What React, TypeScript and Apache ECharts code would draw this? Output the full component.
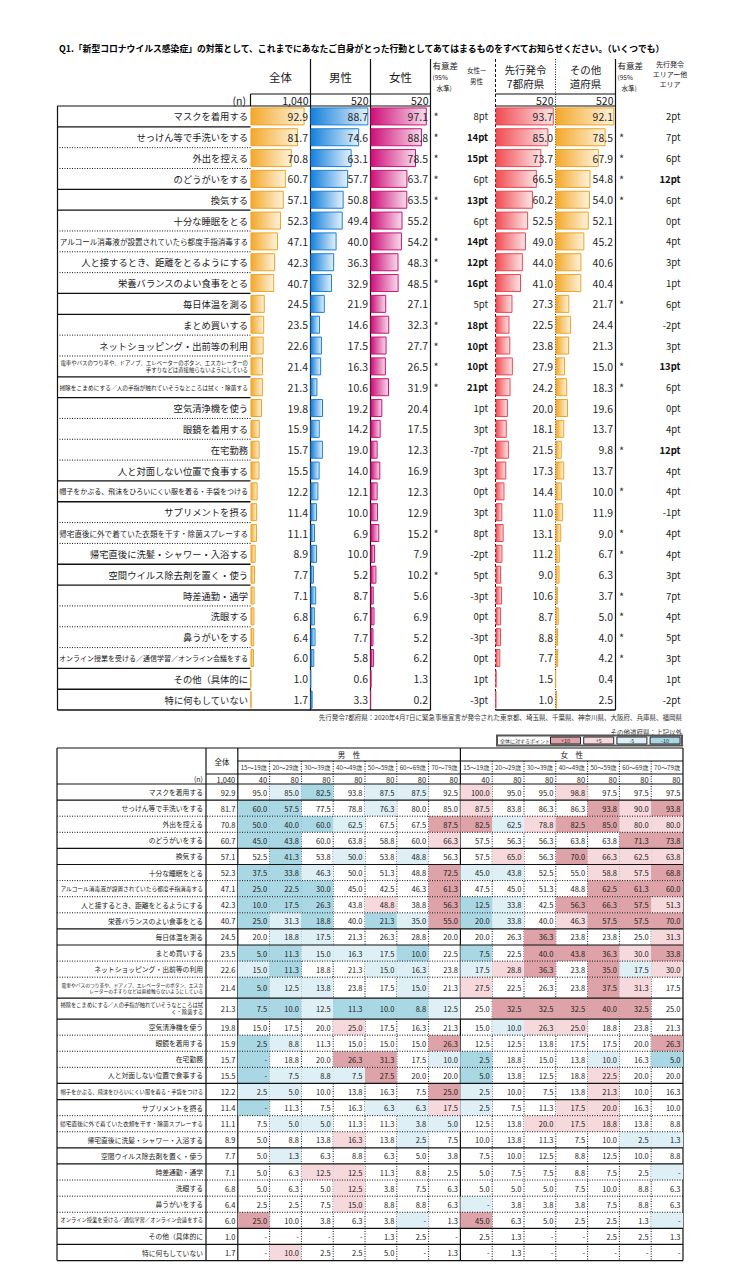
import React, { useEffect, useRef } from 'react';
import * as echarts from 'echarts';

const FONT = '"Noto Sans CJK JP", "Noto Sans", sans-serif';

// ---------------- data ----------------
const TITLE = 'Q1.「新型コロナウイルス感染症」の対策として、これまでにあなたご自身がとった行動としてあてはまるものをすべてお知らせください。（いくつでも）';

const ITEMS = [
  'マスクを着用する',
  'せっけん等で手洗いをする',
  '外出を控える',
  'のどうがいをする',
  '換気する',
  '十分な睡眠をとる',
  'アルコール消毒液が設置されていたら都度手指消毒する',
  '人と接するとき、距離をとるようにする',
  '栄養バランスのよい食事をとる',
  '毎日体温を測る',
  'まとめ買いする',
  'ネットショッピング・出前等の利用',
  '電車やバスのつり革や、ドアノブ、エレベーターのボタン、エスカレーターの手すりなどは直接触らないようにしている',
  '掃除をこまめにする／人の手指が触れていそうなところは拭く・除菌する',
  '空気清浄機を使う',
  '眼鏡を着用する',
  '在宅勤務',
  '人と対面しない位置で食事する',
  '帽子をかぶる、飛沫をひろいにくい服を着る・手袋をつける',
  'サプリメントを摂る',
  '帰宅直後に外で着ていた衣類を干す・除菌スプレーする',
  '帰宅直後に洗髪・シャワー・入浴する',
  '空間ウイルス除去剤を置く・使う',
  '時差通勤・通学',
  '洗眼する',
  '鼻うがいをする',
  'オンライン授業を受ける／通信学習／オンライン会議をする',
  'その他（具体的に',
  '特に何もしていない',
];

const TOTAL = [92.9, 81.7, 70.8, 60.7, 57.1, 52.3, 47.1, 42.3, 40.7, 24.5, 23.5, 22.6, 21.4, 21.3, 19.8, 15.9, 15.7, 15.5, 12.2, 11.4, 11.1, 8.9, 7.7, 7.1, 6.8, 6.4, 6.0, 1.0, 1.7];
const MALE = [88.7, 74.6, 63.1, 57.7, 50.8, 49.4, 40.0, 36.3, 32.9, 21.9, 14.6, 17.5, 16.3, 10.6, 19.2, 14.2, 19.0, 14.0, 12.1, 10.0, 6.9, 10.0, 5.2, 8.7, 6.7, 7.7, 5.8, 0.6, 3.3];
const FEMALE = [97.1, 88.8, 78.5, 63.7, 63.5, 55.2, 54.2, 48.3, 48.5, 27.1, 32.3, 27.7, 26.5, 31.9, 20.4, 17.5, 12.3, 16.9, 12.3, 12.9, 15.2, 7.9, 10.2, 5.6, 6.9, 5.2, 6.2, 1.3, 0.2];
const GENDER_SIG = ['*', '*', '*', '*', '*', '', '*', '*', '*', '', '*', '*', '*', '*', '', '', '', '', '', '', '*', '', '*', '', '', '', '', '', ''];
const GENDER_DIFF = [8, 14, 15, 6, 13, 6, 14, 12, 16, 5, 18, 10, 10, 21, 1, 3, -7, 3, 0, 3, 8, -2, 5, -3, 0, -3, 0, 1, -3];
const LEAD7 = [93.7, 85.0, 73.7, 66.5, 60.2, 52.5, 49.0, 44.0, 41.0, 27.3, 22.5, 23.8, 27.9, 24.2, 20.0, 18.1, 21.5, 17.3, 14.4, 11.0, 13.1, 11.2, 9.0, 10.6, 8.7, 8.8, 7.7, 1.5, 1.0];
const OTHER = [92.1, 78.5, 67.9, 54.8, 54.0, 52.1, 45.2, 40.6, 40.4, 21.7, 24.4, 21.3, 15.0, 18.3, 19.6, 13.7, 9.8, 13.7, 10.0, 11.9, 9.0, 6.7, 6.3, 3.7, 5.0, 4.0, 4.2, 0.4, 2.5];
const AREA_SIG = ['', '*', '*', '*', '*', '', '', '', '', '*', '', '', '*', '*', '', '', '*', '', '*', '', '*', '*', '', '*', '*', '*', '*', '', ''];
const AREA_DIFF = [2, 7, 6, 12, 6, 0, 4, 3, 1, 6, -2, 3, 13, 6, 0, 4, 12, 4, 4, -1, 4, 4, 3, 7, 4, 5, 3, 1, -2];

const TOP_HEAD = ['全体', '男性', '女性'];
const TOP_N = ['1,040', '520', '520'];
const AREA_HEAD = [['先行発令', '7都府県'], ['その他', '道府県']];
const AREA_N = ['520', '520'];

const AGE_BANDS = ['15～19歳', '20～29歳', '30～39歳', '40～49歳', '50～59歳', '60～69歳', '70～79歳'];
const M15 = [95.0, 60.0, 50.0, 45.0, 52.5, 37.5, 25.0, 10.0, 25.0, 20.0, 5.0, 15.0, 5.0, 7.5, 15.0, 2.5, 0, 0, 2.5, 0, 7.5, 5.0, 5.0, 5.0, 5.0, 2.5, 25.0, 0, 0];
const M20 = [85.0, 57.5, 40.0, 43.8, 41.3, 33.8, 22.5, 17.5, 31.3, 18.8, 11.3, 11.3, 12.5, 10.0, 17.5, 8.8, 18.8, 7.5, 5.0, 11.3, 5.0, 8.8, 1.3, 6.3, 6.3, 2.5, 10.0, 0, 10.0];
const M30 = [82.5, 77.5, 60.0, 60.0, 53.8, 46.3, 30.0, 26.3, 18.8, 17.5, 15.0, 18.8, 13.8, 12.5, 20.0, 11.3, 20.0, 8.8, 10.0, 7.5, 5.0, 13.8, 6.3, 12.5, 5.0, 7.5, 3.8, 0, 2.5];
const M40 = [93.8, 78.8, 62.5, 63.8, 50.0, 50.0, 45.0, 43.8, 40.0, 21.3, 16.3, 21.3, 23.8, 11.3, 25.0, 15.0, 26.3, 7.5, 13.8, 16.3, 11.3, 16.3, 8.8, 12.5, 12.5, 15.0, 6.3, 0, 2.5];
const M50 = [87.5, 76.3, 67.5, 58.8, 53.8, 51.3, 42.5, 48.8, 21.3, 26.3, 17.5, 15.0, 17.5, 10.0, 17.5, 15.0, 31.3, 27.5, 16.3, 6.3, 11.3, 13.8, 6.3, 11.3, 3.8, 8.8, 3.8, 1.3, 5.0];
const M60 = [87.5, 80.0, 67.5, 60.0, 48.8, 48.8, 46.3, 38.8, 35.0, 28.8, 10.0, 16.3, 15.0, 8.8, 16.3, 15.0, 17.5, 20.0, 7.5, 6.3, 3.8, 2.5, 5.0, 8.8, 7.5, 8.8, 0, 2.5, 0];
const M70 = [92.5, 85.0, 87.5, 66.3, 56.3, 72.5, 61.3, 56.3, 55.0, 20.0, 22.5, 23.8, 21.3, 12.5, 21.3, 26.3, 10.0, 20.0, 25.0, 17.5, 5.0, 7.5, 3.8, 2.5, 6.3, 6.3, 1.3, 0, 1.3];
const F15 = [100.0, 87.5, 82.5, 57.5, 57.5, 45.0, 47.5, 12.5, 20.0, 20.0, 7.5, 17.5, 27.5, 25.0, 15.0, 12.5, 2.5, 5.0, 2.5, 2.5, 12.5, 10.0, 7.5, 5.0, 5.0, 0, 45.0, 2.5, 0];
const F20 = [95.0, 83.8, 62.5, 56.3, 65.0, 43.8, 45.0, 33.8, 33.8, 26.3, 22.5, 28.8, 22.5, 32.5, 10.0, 12.5, 18.8, 13.8, 10.0, 7.5, 13.8, 13.8, 10.0, 7.5, 5.0, 3.8, 6.3, 1.3, 1.3];
const F30 = [95.0, 86.3, 78.8, 56.3, 56.3, 52.5, 51.3, 42.5, 40.0, 36.3, 40.0, 36.3, 26.3, 32.5, 26.3, 13.8, 15.0, 12.5, 7.5, 11.3, 20.0, 11.3, 12.5, 7.5, 5.0, 3.8, 5.0, 0, 0];
const F40 = [98.8, 86.3, 82.5, 63.8, 70.0, 55.0, 48.8, 56.3, 46.3, 23.8, 43.8, 23.8, 23.8, 32.5, 25.0, 17.5, 13.8, 18.8, 13.8, 17.5, 17.5, 7.5, 8.8, 8.8, 7.5, 3.8, 2.5, 0, 0];
const F50 = [97.5, 93.8, 85.0, 63.8, 66.3, 58.8, 62.5, 66.3, 57.5, 23.8, 36.3, 35.0, 37.5, 40.0, 18.8, 17.5, 10.0, 22.5, 21.3, 20.0, 18.8, 10.0, 12.5, 7.5, 10.0, 7.5, 2.5, 2.5, 0];
const F60 = [97.5, 90.0, 80.0, 71.3, 62.5, 57.5, 61.3, 57.5, 57.5, 25.0, 30.0, 17.5, 31.3, 32.5, 23.8, 20.0, 16.3, 20.0, 10.0, 16.3, 13.8, 2.5, 10.0, 2.5, 8.8, 8.8, 1.3, 2.5, 0];
const F70 = [97.5, 93.8, 80.0, 73.8, 63.8, 68.8, 60.0, 51.3, 70.0, 31.3, 33.8, 30.0, 17.5, 25.0, 21.3, 26.3, 5.0, 20.0, 16.3, 10.0, 8.8, 1.3, 8.8, 0, 6.3, 6.3, 0, 1.3, 0];
const BOTTOM_COLUMNS = [TOTAL, M15, M20, M30, M40, M50, M60, M70, F15, F20, F30, F40, F50, F60, F70];
const BOTTOM_N = ['1,040', '40', '80', '80', '80', '80', '80', '80', '40', '80', '80', '80', '80', '80', '80'];
const BOTTOM_KEYS = ['全体', ...AGE_BANDS.map((a) => '男性' + a), ...AGE_BANDS.map((a) => '女性' + a)];

const DIFF_PIECES = [
  { min: 10, label: '+10', color: '#DDA3A8' },
  { min: 5, max: 10, label: '+5', color: '#F5D9DC' },
  { min: -10, max: -5, label: '-5', color: '#DEF0F5' },
  { max: -10, label: '-10', color: '#A9D8E4' },
];

const FOOTNOTE1 = '先行発令7都府県：2020年4月7日に緊急事態宣言が発令された東京都、埼玉県、千葉県、神奈川県、大阪府、兵庫県、福岡県';
const FOOTNOTE2 = 'その他道府県：上記以外';
const LEGEND_TITLE = '全体に対するポイント差';

// ---------------- layout / style ----------------
const SOLID_AFTER = [0, 3, 4, 8, 9, 12, 13, 17, 18, 21, 22, 26, 27];
const TOP_BREAKS: Record<number, number> = { 12: 35 };
const BOTTOM_BREAKS: Record<number, number> = { 12: 30, 13: 27 };

const T_TOP = 106;
const T_ROW_H = 20.83;
const T_H = T_ROW_H * ITEMS.length;
const T_BOTTOM = T_TOP + T_H;
const T_LABEL_L = 57;
const T_LABEL_W = 193.5;
const COL_W = 60;

const ORANGE = { c0: '#F3A82A', c1: '#FDF3DC', line: '#F0A323' };
const BAR_COLS = [
  { left: 250.5, data: TOTAL, max: 103, ...ORANGE },
  { left: 310.5, data: MALE, max: 92, c0: '#1581DC', c1: '#E4F1FB', line: '#1A80D8' },
  { left: 370.5, data: FEMALE, max: 103.5, c0: '#CE0F78', c1: '#F8DCEC', line: '#CC1177' },
  { left: 495.5, data: LEAD7, max: 96.5, c0: '#F04B52', c1: '#FDE5E6', line: '#EE4650' },
  { left: 555.5, data: OTHER, max: 94, ...ORANGE },
];
const SIG_COLS = [
  { left: 430.5, width: 65, sig: GENDER_SIG, diff: GENDER_DIFF, starMargin: 3, diffMargin: 7.5 },
  { left: 615.5, width: 75, sig: AREA_SIG, diff: AREA_DIFF, starMargin: 3.5, diffMargin: 10 },
];

const B_LEFT = 57;
const B_GRID_L = 206;
const B_COL_W = 31.8;
const B_TOP = 774;
const B_UNIT = 16.1;
const N_UNITS = 10 / 16.1;
const TALL_UNITS = 1.3;

const wrap = (s: string, at?: number) => (at ? s.slice(0, at) + '\n' + s.slice(at) : s);
const emLen = (s: string) => Array.from(s).reduce((a, ch) => a + (ch.charCodeAt(0) < 0x2000 ? 0.56 : 1), 0);
const fitSize = (label: string, width: number, cap: number) =>
  Math.min(cap, width / Math.max(...label.split('\n').map(emLen)));

const diffColor = (d: number) => {
  const v = Math.round(d * 10) / 10;
  if (v >= 10) return DIFF_PIECES[0].color;
  if (v >= 5) return DIFF_PIECES[1].color;
  if (v <= -10) return DIFF_PIECES[3].color;
  if (v <= -5) return DIFF_PIECES[2].color;
  return null;
};

const lineEl = (x1: number, y1: number, x2: number, y2: number, kind = 'solid', w = 1.2) => ({
  type: 'line',
  silent: true,
  shape: { x1, y1, x2, y2 },
  style: {
    stroke: '#111',
    lineWidth: kind === 'solid' ? w : 1,
    lineDash: kind === 'dashed' ? [3, 2] : kind === 'dotted' ? [1, 1.5] : undefined,
  },
});

const textEl = (text: string, x: number, y: number, o: any = {}) => ({
  type: 'text',
  silent: true,
  x,
  y,
  style: {
    text,
    fill: o.color || '#1a1a1a',
    fontSize: o.size || 10,
    fontFamily: FONT,
    fontWeight: o.bold ? 'bold' : 'normal',
    align: o.align || 'left',
    verticalAlign: 'middle',
    textAlign: o.align || 'left',
    textVerticalAlign: 'middle',
  },
});

function buildOption() {
  const grid: any[] = [];
  const xAxis: any[] = [];
  const yAxis: any[] = [];
  const series: any[] = [];
  const noLine = { show: false };

  // ---- label column (top table) ----
  const topLabels = ITEMS.map((s, i) => wrap(s, TOP_BREAKS[i]));
  const topRich: any = {};
  topLabels.forEach((s, i) => {
    const fs = fitSize(s, 189, 9.3);
    topRich['r' + i] = { fontSize: fs, lineHeight: Math.max(fs * 1.3, 7), color: '#1a1a1a', fontFamily: FONT };
  });
  grid.push({ left: T_LABEL_L, top: T_TOP, width: T_LABEL_W, height: T_H });
  xAxis.push({ type: 'value', gridIndex: 0, min: 0, max: 1, show: false });
  yAxis.push({
    type: 'category', gridIndex: 0, data: ITEMS, inverse: true, position: 'right',
    axisLine: noLine, axisTick: noLine, splitLine: noLine,
    axisLabel: { inside: true, margin: 2.5, interval: 0, formatter: (_v: string, i: number) => `{r${i}|${topLabels[i]}}`, rich: topRich },
  });
  series.push({
    type: 'custom', xAxisIndex: 0, yAxisIndex: 0, silent: true,
    data: ITEMS.map((_, i) => [0, i]),
    encode: { x: 0, y: 1 },
    renderItem: (params: any, api: any) => {
      const i = api.value(1);
      if (i >= ITEMS.length - 1) return null;
      const c = api.coord([0, i]);
      const h = api.size([0, 1])[1];
      const y = c[1] + h / 2;
      const cs = params.coordSys;
      const solid = SOLID_AFTER.includes(i);
      return {
        type: 'line',
        shape: { x1: cs.x, y1: y, x2: cs.x + cs.width, y2: y },
        style: { stroke: '#111', lineWidth: solid ? 1.3 : 1, lineDash: solid ? undefined : [1, 1.5] },
      };
    },
  });

  // ---- bar columns ----
  BAR_COLS.forEach((c) => {
    const gi = grid.length;
    grid.push({ left: c.left, top: T_TOP, width: COL_W, height: T_H });
    xAxis.push({ type: 'value', gridIndex: gi, min: 0, max: c.max, show: false });
    const yi = yAxis.length;
    yAxis.push({ type: 'category', gridIndex: gi, data: ITEMS, inverse: true, show: false });
    yAxis.push({
      type: 'category', gridIndex: gi, data: ITEMS, inverse: true, position: 'right', z: 20,
      axisLine: noLine, axisTick: noLine, splitLine: noLine,
      axisLabel: {
        inside: true, margin: 2.5, interval: 0, fontSize: 10.5, color: '#2a2a2a', fontFamily: FONT,
        formatter: (_v: string, i: number) => c.data[i].toFixed(1),
      },
    });
    series.push({
      type: 'bar', xAxisIndex: gi, yAxisIndex: yi, data: c.data, barWidth: 18, silent: true, z: 1,
      itemStyle: {
        color: new echarts.graphic.LinearGradient(0, 0, 1, 0, [
          { offset: 0, color: c.c0 },
          { offset: 1, color: c.c1 },
        ]),
        borderColor: c.line,
        borderWidth: 1,
      },
    });
  });

  // ---- significance columns ----
  SIG_COLS.forEach((s) => {
    const gi = grid.length;
    grid.push({ left: s.left, top: T_TOP, width: s.width, height: T_H });
    xAxis.push({ type: 'value', gridIndex: gi, min: 0, max: 1, show: false });
    yAxis.push({
      type: 'category', gridIndex: gi, data: ITEMS, inverse: true, position: 'left',
      axisLine: noLine, axisTick: noLine, splitLine: noLine,
      axisLabel: { inside: true, margin: s.starMargin, interval: 0, fontSize: 11, color: '#333', fontFamily: FONT, formatter: (_v: string, i: number) => s.sig[i] },
    });
    yAxis.push({
      type: 'category', gridIndex: gi, data: ITEMS, inverse: true, position: 'right',
      axisLine: noLine, axisTick: noLine, splitLine: noLine,
      axisLabel: {
        inside: true, margin: s.diffMargin, interval: 0,
        formatter: (_v: string, i: number) => `{${Math.abs(s.diff[i]) >= 10 ? 'b' : 'n'}|${s.diff[i]}pt}`,
        rich: {
          b: { fontSize: 9.5, fontWeight: 'bold', color: '#111', fontFamily: FONT },
          n: { fontSize: 9.5, color: '#222', fontFamily: FONT },
        },
      },
    });
  });

  // ---- bottom table ----
  const bottomLabels = ITEMS.map((s, i) => wrap(s, BOTTOM_BREAKS[i]));
  const rowUnits = [N_UNITS, ...bottomLabels.map((s) => (s.includes('\n') ? TALL_UNITS : 1))];
  const rowStart: number[] = [];
  let acc = 0;
  rowUnits.forEach((u) => { rowStart.push(acc); acc += u; });
  const totalUnits = acc;
  const bGi = grid.length;
  grid.push({ left: B_GRID_L, top: B_TOP, width: B_COL_W * BOTTOM_KEYS.length, height: totalUnits * B_UNIT });
  const bHeaders = ['', ...AGE_BANDS, ...AGE_BANDS];
  xAxis.push({
    type: 'category', gridIndex: bGi, position: 'top', data: BOTTOM_KEYS,
    axisLine: noLine, axisTick: noLine, splitLine: noLine,
    axisLabel: { interval: 0, margin: 3.5, fontSize: 6.2, color: '#333', fontFamily: FONT, formatter: (_v: string, i: number) => bHeaders[i] },
  });
  const bYi = yAxis.length;
  yAxis.push({ type: 'value', gridIndex: bGi, min: 0, max: totalUnits, inverse: true, show: false });

  const cellData: any[] = [];
  rowUnits.forEach((u, k) => {
    BOTTOM_KEYS.forEach((_, c) => {
      const v = k === 0 ? -1 : BOTTOM_COLUMNS[c][k - 1];
      cellData.push([c, rowStart[k], rowStart[k] + u, k, v]);
    });
  });
  series.push({
    type: 'custom', xAxisIndex: bGi, yAxisIndex: bYi, silent: true, clip: false,
    data: cellData, encode: { x: 0, y: [1, 2] },
    renderItem: (_params: any, api: any) => {
      const c = api.value(0);
      const k = api.value(3);
      const v = api.value(4);
      const p0 = api.coord([c, api.value(1)]);
      const p1 = api.coord([c, api.value(2)]);
      const w = api.size([1, 0])[0];
      const left = p0[0] - w / 2;
      let text: string;
      let fill: string | null = null;
      if (k === 0) {
        text = BOTTOM_N[c];
      } else {
        text = v === 0 ? '-' : v.toFixed(1);
        if (c > 0) fill = diffColor(v - TOTAL[k - 1]);
      }
      const children: any[] = [];
      if (fill) {
        children.push({ type: 'rect', shape: { x: left, y: p0[1], width: w, height: p1[1] - p0[1] }, style: { fill } });
      }
      children.push({
        type: 'text', x: left + w - 2.5, y: (p0[1] + p1[1]) / 2,
        style: { text, fill: '#222', fontSize: 7.5, fontFamily: FONT, align: 'right', verticalAlign: 'middle', textAlign: 'right', textVerticalAlign: 'middle' },
      });
      return { type: 'group', children };
    },
  });
  series.push({
    type: 'custom', xAxisIndex: bGi, yAxisIndex: bYi, silent: true, clip: false,
    data: rowUnits.map((u, k) => [0, rowStart[k], rowStart[k] + u, k]),
    encode: { x: 0, y: [1, 2] },
    renderItem: (params: any, api: any) => {
      const cs = params.coordSys;
      const k = api.value(3);
      const y0 = api.coord([0, api.value(1)])[1];
      const y1 = api.coord([0, api.value(2)])[1];
      const label = k === 0 ? '(n)' : bottomLabels[k - 1];
      const fs = k === 0 ? 7 : fitSize(label, 143, 6.8);
      const solid = k === 0 || k === rowUnits.length - 1 || SOLID_AFTER.includes(k - 1);
      return {
        type: 'group',
        children: [
          {
            type: 'text', x: cs.x - 3, y: (y0 + y1) / 2,
            style: { text: label, fill: '#1a1a1a', fontSize: fs, lineHeight: fs * 1.35, fontFamily: FONT, align: 'right', verticalAlign: 'middle', textAlign: 'right', textVerticalAlign: 'middle' },
          },
          {
            type: 'line',
            shape: { x1: B_LEFT, y1: y1, x2: cs.x + cs.width, y2: y1 },
            style: { stroke: '#111', lineWidth: solid ? 1.2 : 1, lineDash: solid ? undefined : [1, 1.5] },
          },
        ],
      };
    },
  });

  // ---- graphic: titles, headers, frame, legend ----
  const g: any[] = [];
  g.push(textEl(TITLE, 59, 48, { size: 8.8, bold: true, color: '#000' }));

  // top header
  BAR_COLS.slice(0, 3).forEach((c, i) => {
    g.push(textEl(TOP_HEAD[i], c.left + COL_W / 2, 77, { size: 11.5, align: 'center' }));
    g.push(textEl(TOP_N[i], c.left + COL_W - 2, 100, { size: 10.5, align: 'right' }));
  });
  BAR_COLS.slice(3).forEach((c, i) => {
    g.push(textEl(AREA_HEAD[i][0], c.left + COL_W / 2, 69.5, { size: 10.5, align: 'center' }));
    g.push(textEl(AREA_HEAD[i][1], c.left + COL_W / 2, 83.5, { size: 10.5, align: 'center' }));
    g.push(textEl(AREA_N[i], c.left + COL_W - 2, 100, { size: 10.5, align: 'right' }));
  });
  g.push(textEl('(n)', 246, 100, { size: 10.5, align: 'right' }));
  SIG_COLS.forEach((s) => {
    g.push(textEl('有意差', s.left + 2, 65, { size: 8.5 }));
    g.push(textEl('(95%', s.left + 2, 76.5, { size: 6.5 }));
    g.push(textEl('水準)', s.left + 6, 87.5, { size: 6.5 }));
  });
  g.push(textEl('女性ー', 467, 70, { size: 6.5 }));
  g.push(textEl('男性', 470, 80.5, { size: 6.5 }));
  g.push(textEl('先行発令', 670, 64, { size: 7, align: 'center' }));
  g.push(textEl('エリアー他', 670, 73.5, { size: 7, align: 'center' }));
  g.push(textEl('エリア', 670, 83.5, { size: 7, align: 'center' }));

  // top frame
  [310.5, 370.5, 430.5, 615.5].forEach((x) => g.push(lineEl(x, 59, x, T_BOTTOM)));
  g.push(lineEl(495.5, 59, 495.5, T_BOTTOM, 'dashed'));
  g.push(lineEl(555.5, 59, 555.5, T_BOTTOM, 'dotted'));
  g.push(lineEl(57.5, T_TOP, 57.5, T_BOTTOM));
  g.push(lineEl(250.5, 94, 250.5, T_TOP));
  [[250.5, 430.5], [495.5, 615.5]].forEach(([a, b]) => g.push(lineEl(a, 94, b, 94)));
  [[57.5, 430.5], [495.5, 615.5]].forEach(([a, b]) => {
    g.push(lineEl(a, T_TOP, b, T_TOP));
    g.push(lineEl(a, T_BOTTOM, b, T_BOTTOM, 'solid', 1.4));
  });

  // footnotes
  g.push(textEl(FOOTNOTE1, 682, 717, { size: 6.5, align: 'right', color: '#333' }));
  g.push(textEl(FOOTNOTE2, 682, 731.5, { size: 6.5, align: 'right', color: '#333' }));

  // legend
  g.push({ type: 'rect', silent: true, shape: { x: 497, y: 735.5, width: 185, height: 10 }, style: { fill: '#fff', stroke: '#555', lineWidth: 2 } });
  g.push(textEl(LEGEND_TITLE, 500, 740.5, { size: 5, color: '#333' }));
  DIFF_PIECES.forEach((p, k) => {
    const x = 550.5 + k * 33.2;
    g.push({ type: 'rect', silent: true, shape: { x, y: 737, width: 30, height: 7 }, style: { fill: p.color, stroke: '#111', lineWidth: 0.9 } });
    g.push(textEl(p.label, x + 15, 740.5, { size: 5.5, align: 'center', color: '#333' }));
  });

  // bottom header
  const bRight = B_GRID_L + B_COL_W * BOTTOM_KEYS.length;
  const bBottom = B_TOP + totalUnits * B_UNIT;
  const colX = (j: number) => B_GRID_L + j * B_COL_W;
  g.push(textEl(BOTTOM_KEYS[0], colX(0.5), 761, { size: 7.5, align: 'center' }));
  g.push(textEl('男　性', colX(4.5), 754.5, { size: 7.5, align: 'center' }));
  g.push(textEl('女　性', colX(11.5), 754.5, { size: 7.5, align: 'center' }));
  g.push(lineEl(B_LEFT, 748, bRight, 748));
  g.push(lineEl(colX(1), 761, bRight, 761));
  g.push(lineEl(B_GRID_L, B_TOP, bRight, B_TOP));
  [B_LEFT, colX(0), colX(1), colX(8), colX(15)].forEach((x) => g.push(lineEl(x, 748, x, bBottom)));
  for (let j = 2; j < 15; j++) {
    if (j === 8) continue;
    g.push(lineEl(colX(j), 761, colX(j), bBottom, 'dotted'));
  }

  return {
    animation: false,
    backgroundColor: '#fff',
    textStyle: { fontFamily: FONT },
    grid,
    xAxis,
    yAxis,
    series,
    graphic: { elements: g },
  };
}

export default function App() {
  const ref = useRef<HTMLDivElement>(null);
  useEffect(() => {
    if (!ref.current) return;
    const chart = echarts.init(ref.current, null, { renderer: 'svg' });
    chart.setOption(buildOption() as any);
    return () => chart.dispose();
  }, []);
  return (
    <div
      ref={ref}
      style={{ position: 'absolute', left: 0, top: 0, width: 756, height: 1280, background: '#fff' }}
    />
  );
}
